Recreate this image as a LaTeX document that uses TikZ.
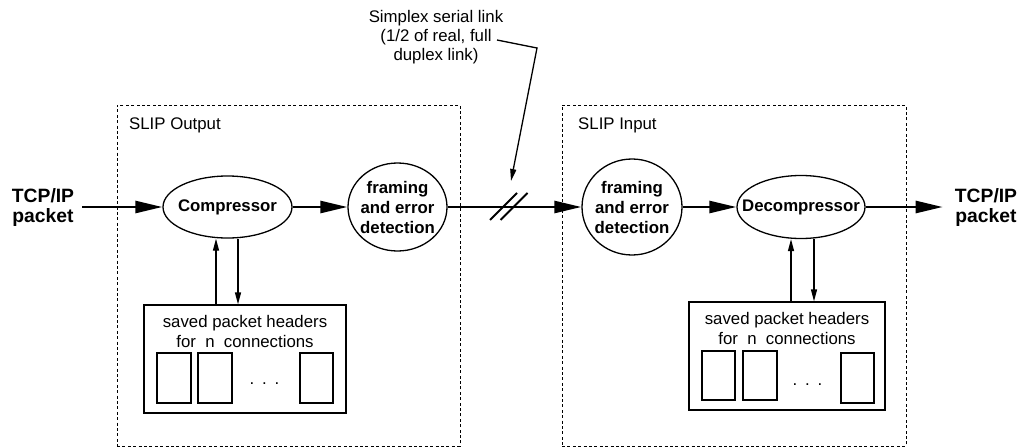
\documentclass[tikz,border=0pt]{standalone}
\usepackage{fontspec}
\setmainfont{Liberation Sans}
\usetikzlibrary{arrows.meta,shapes.geometric}
\tikzset{
  reg/.style={font=\fontsize{16.8}{20}\selectfont},
  bld/.style={font=\fontsize{16.8}{20}\selectfont\bfseries},
  big/.style={font=\fontsize{19.3}{20}\selectfont\bfseries},
  slipbox/.style={draw, rectangle, line width=1pt, dash pattern=on 3pt off 2.4pt, inner sep=0pt},
  procshape/.style={draw, ellipse, line width=1.3pt, inner sep=0pt},
  store/.style={draw, rectangle, line width=1.3pt, inner sep=0pt},
  slot/.style={draw, rectangle, line width=1.3pt, inner sep=0pt},
  flow/.style={line width=2.6pt, -{Triangle[length=27pt,width=12pt]}},
  thinarrow/.style={line width=1.3pt, -{Triangle[length=12pt,width=6pt]}},
  slash/.style={line width=2pt},
}
\begin{document}
\begin{tikzpicture}[x=1pt,y=-1pt]
\useasboundingbox (0,0) rectangle (1022,447);

% dashed module boxes
\node[slipbox, minimum width=343pt, minimum height=341pt] (outbox) at (288.5,275.5) {};
\node[slipbox, minimum width=344pt, minimum height=341pt] (inbox) at (734,275.5) {};
\node[reg, anchor=base west, inner sep=0pt] (outlbl) at (129,129) {SLIP Output};
\node[reg, anchor=base west, inner sep=0pt] (inlbl) at (578,129) {SLIP Input};

% external labels
\node[big, align=center, anchor=north, inner xsep=8pt, inner ysep=0pt] (tcpL) at (43,188) {TCP/IP\\packet};
\node[big, align=center, anchor=north, inner xsep=12pt, inner ysep=0pt] (tcpR) at (986,188) {TCP/IP\\packet};

% process shapes
\node[procshape, minimum width=129pt, minimum height=62pt] (comp) at (227.5,207) {};
\node[bld] (compt) at (comp.center) {Compressor};
\node[procshape, minimum width=99pt, minimum height=88pt] (frL) at (397.5,207) {};
\node[bld, align=center] (frLt) at (frL.center) {framing\\and error\\detection};
\node[procshape, minimum width=100pt, minimum height=96pt] (frR) at (632,207) {};
\node[bld, align=center] (frRt) at (frR.center) {framing\\and error\\detection};
\node[procshape, minimum width=128pt, minimum height=63pt] (decomp) at (801,207) {};
\node[bld] (decompt) at (decomp.center) {Decompressor};

% stores
\node[store, minimum width=202pt, minimum height=108pt] (boxL) at (245,359) {};
\node[reg, align=center, anchor=north, inner sep=0pt] (boxLt) at (245,315) {saved packet headers\\for~~n~~connections};
\node[slot, minimum width=34pt, minimum height=50pt] (sL1) at (174,378) {};
\node[slot, minimum width=34pt, minimum height=50pt] (sL2) at (215,378) {};
\node[slot, minimum width=33pt, minimum height=50pt] (sL3) at (316.5,378) {};
\node[reg, anchor=base, inner sep=0pt] (dotsL) at (264.5,384) {.\hspace{7.8pt}.\hspace{7.8pt}.};

\node[store, minimum width=196pt, minimum height=108pt] (boxR) at (787,356) {};
\node[reg, align=center, anchor=north, inner sep=0pt] (boxRt) at (787,312) {saved packet headers\\for~~n~~connections};
\node[slot, minimum width=33pt, minimum height=49pt] (sR1) at (718.5,375.5) {};
\node[slot, minimum width=34pt, minimum height=49pt] (sR2) at (760,375.5) {};
\node[slot, minimum width=33pt, minimum height=50pt] (sR3) at (857.5,378) {};
\node[reg, anchor=base, inner sep=0pt] (dotsR) at (807.5,385) {.\hspace{7.8pt}.\hspace{7.8pt}.};

% main flow
\draw[flow] (tcpL.east |- comp.west) -- (comp.west);
\draw[flow] (comp.east) -- (frL.west);
\draw[flow] (frL.east) -- (frR.west);
\draw[flow] (frR.east) -- (decomp.west);
\draw[flow] (decomp.east) -- (decomp.east -| tcpR.west);

% link marks
\draw[slash] (490,220) -- (517,193);
\draw[slash] (500.5,220) -- (527.5,193);

% store arrows
\draw[thinarrow] ([xshift=-29pt]boxL.north) -- ([xshift=-11.5pt]comp.south);
\draw[thinarrow] ([xshift=10.5pt]comp.south) -- ([xshift=-7pt]boxL.north);
\draw[thinarrow] ([xshift=4pt]boxR.north) -- ([xshift=-10pt]decomp.south);
\draw[thinarrow] ([xshift=13pt]decomp.south) -- ([xshift=27pt]boxR.north);

% link annotation
\node[reg, align=center, anchor=north, inner sep=0pt, font=\fontsize{16.8}{19.2}\selectfont] (note) at (436,10) {Simplex serial link\\(1/2 of real, full\\duplex link)};
\coordinate (lead1) at (497,40);
\coordinate (bend) at (537,48);
\coordinate (linktip) at (511,181);
\draw[thinarrow] (lead1) -- (bend) -- (linktip);
\end{tikzpicture}
\end{document}
